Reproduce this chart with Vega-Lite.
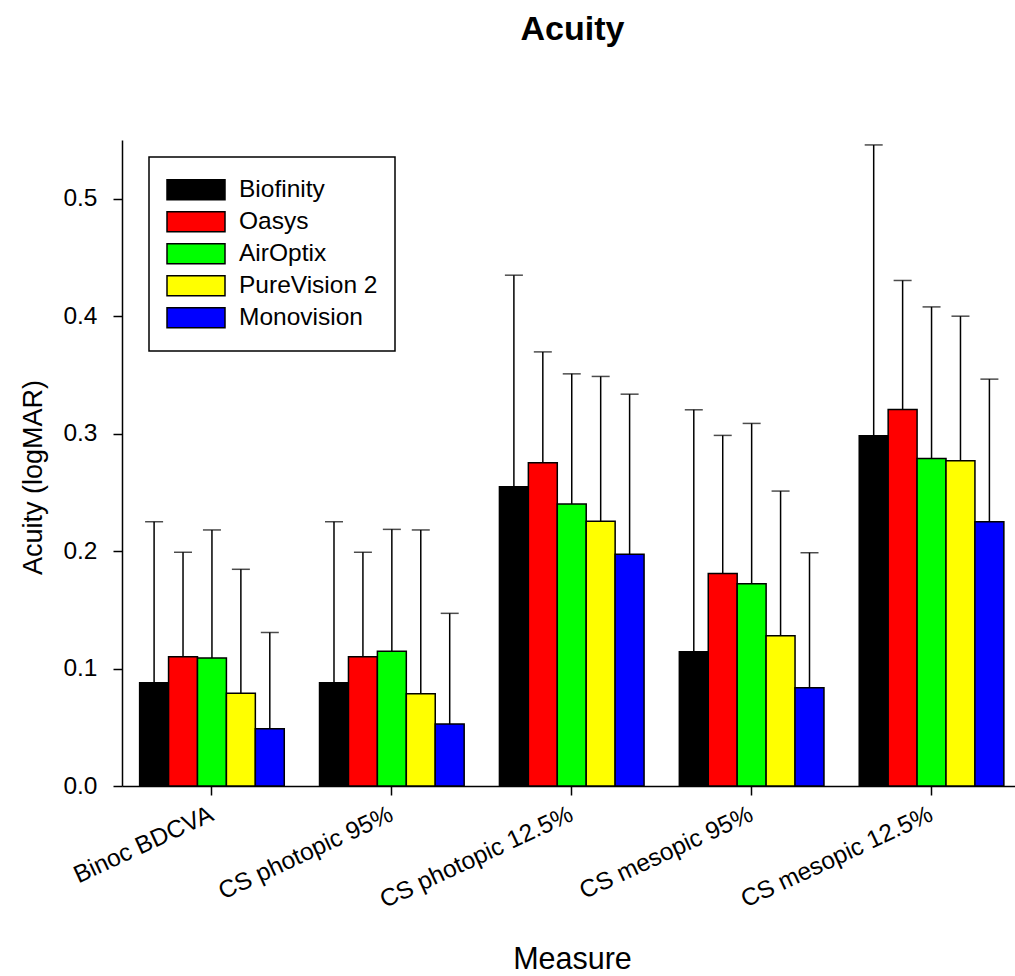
{
  "$schema": "https://vega.github.io/schema/vega-lite/v6.json",
  "autosize": {"type": "none"},
  "padding": {"left": 122, "top": 140, "right": 0, "bottom": 190},
  "width": 893,
  "height": 646,
  "title": {"text": "Acuity", "fontSize": 34, "fontWeight": "bold", "font": "Liberation Sans", "anchor": "middle", "frame": "group", "offset": 66, "baseline": "alphabetic", "dx": 4, "color": "black"},
  "data": {"values": [
    {"measure": "Binoc BDCVA", "lens": "Biofinity", "value": 0.088, "upper": 0.225},
    {"measure": "Binoc BDCVA", "lens": "Oasys", "value": 0.110, "upper": 0.199},
    {"measure": "Binoc BDCVA", "lens": "AirOptix", "value": 0.109, "upper": 0.218},
    {"measure": "Binoc BDCVA", "lens": "PureVision 2", "value": 0.079, "upper": 0.1845},
    {"measure": "Binoc BDCVA", "lens": "Monovision", "value": 0.0487, "upper": 0.1307},
    {"measure": "CS photopic 95%", "lens": "Biofinity", "value": 0.088, "upper": 0.225},
    {"measure": "CS photopic 95%", "lens": "Oasys", "value": 0.110, "upper": 0.199},
    {"measure": "CS photopic 95%", "lens": "AirOptix", "value": 0.1148, "upper": 0.2185},
    {"measure": "CS photopic 95%", "lens": "PureVision 2", "value": 0.0785, "upper": 0.218},
    {"measure": "CS photopic 95%", "lens": "Monovision", "value": 0.0527, "upper": 0.147},
    {"measure": "CS photopic 12.5%", "lens": "Biofinity", "value": 0.2547, "upper": 0.4349},
    {"measure": "CS photopic 12.5%", "lens": "Oasys", "value": 0.2752, "upper": 0.3696},
    {"measure": "CS photopic 12.5%", "lens": "AirOptix", "value": 0.240, "upper": 0.3509},
    {"measure": "CS photopic 12.5%", "lens": "PureVision 2", "value": 0.2255, "upper": 0.3487},
    {"measure": "CS photopic 12.5%", "lens": "Monovision", "value": 0.1974, "upper": 0.3336},
    {"measure": "CS mesopic 95%", "lens": "Biofinity", "value": 0.1143, "upper": 0.3203},
    {"measure": "CS mesopic 95%", "lens": "Oasys", "value": 0.181, "upper": 0.2985},
    {"measure": "CS mesopic 95%", "lens": "AirOptix", "value": 0.1722, "upper": 0.3087},
    {"measure": "CS mesopic 95%", "lens": "PureVision 2", "value": 0.1279, "upper": 0.2511},
    {"measure": "CS mesopic 95%", "lens": "Monovision", "value": 0.0837, "upper": 0.1986},
    {"measure": "CS mesopic 12.5%", "lens": "Biofinity", "value": 0.2981, "upper": 0.5458},
    {"measure": "CS mesopic 12.5%", "lens": "Oasys", "value": 0.3206, "upper": 0.4304},
    {"measure": "CS mesopic 12.5%", "lens": "AirOptix", "value": 0.2789, "upper": 0.4079},
    {"measure": "CS mesopic 12.5%", "lens": "PureVision 2", "value": 0.2769, "upper": 0.400},
    {"measure": "CS mesopic 12.5%", "lens": "Monovision", "value": 0.2249, "upper": 0.3464}
  ]},
  "encoding": {
    "x": {
      "field": "measure", "type": "nominal", "sort": null,
      "scale": {"range": [0, 899.5], "paddingInner": 0.196, "paddingOuter": 0.098},
      "axis": {
        "title": "Measure", "titleFontSize": 30.5, "titleFontWeight": "normal", "titleColor": "black",
        "titleX": 450, "titleY": 158, "titleBaseline": "top", "titleAnchor": "middle",
        "labelAngle": -25, "labelAlign": "right", "labelBaseline": "top", "labelFontSize": 24.5, "labelColor": "black",
        "labelPadding": 7, "labelOffset": -5, "labelLimit": 0, "labelOverlap": false, "tickSize": 9, "tickWidth": 1.5, "tickColor": "black",
        "domainColor": "black", "domainWidth": 1.5, "grid": false
      }
    },
    "xOffset": {
      "field": "lens", "type": "nominal",
      "sort": ["Biofinity", "Oasys", "AirOptix", "PureVision 2", "Monovision"],
      "scale": {"paddingInner": 0, "paddingOuter": 0}
    }
  },
  "layer": [
    {
      "mark": {"type": "bar", "stroke": "black", "strokeWidth": 1.5},
      "encoding": {
        "y": {
          "field": "value", "type": "quantitative",
          "scale": {"domain": [0, 0.55], "nice": false, "zero": true},
          "axis": {
            "title": "Acuity (logMAR)", "titleFontSize": 27, "titleFontWeight": "normal", "titleColor": "black",
            "titleX": -81, "titleY": 337, "titleBaseline": "alphabetic", "titleAngle": 270, "titleAnchor": "middle",
            "values": [0, 0.1, 0.2, 0.3, 0.4, 0.5], "format": ".1f",
            "labelFontSize": 24.5, "labelColor": "black", "labelPadding": 16,
            "tickSize": 9, "tickWidth": 1.5, "tickColor": "black",
            "domainColor": "black", "domainWidth": 1.5, "grid": false
          }
        },
        "fill": {
          "field": "lens", "type": "nominal",
          "sort": ["Biofinity", "Oasys", "AirOptix", "PureVision 2", "Monovision"],
          "scale": {"domain": ["Biofinity", "Oasys", "AirOptix", "PureVision 2", "Monovision"], "range": ["#000000", "#ff0000", "#00ff00", "#ffff00", "#0000ff"]},
          "legend": {
            "title": null, "orient": "none", "legendX": 27, "legendY": 17,
            "strokeColor": "black", "padding": 17,
            "symbolType": "M-1,-0.345H1V0.345H-1Z", "symbolSize": 3364,
            "symbolStrokeColor": "black", "symbolStrokeWidth": 1.5, "symbolOpacity": 1,
            "labelFontSize": 24.5, "labelColor": "black", "labelOffset": 13,
            "clipHeight": 31.5, "rowPadding": 0, "direction": "vertical"
          }
        }
      }
    },
    {
      "mark": {"type": "rule", "color": "black", "strokeWidth": 1.5},
      "encoding": {
        "y": {"field": "value", "type": "quantitative"},
        "y2": {"field": "upper"}
      }
    },
    {
      "mark": {"type": "tick", "color": "black", "thickness": 1.5, "size": 18, "orient": "horizontal"},
      "encoding": {
        "y": {"field": "upper", "type": "quantitative"}
      }
    }
  ],
  "config": {
    "font": "Liberation Sans",
    "view": {"stroke": null},
    "axis": {"labelFont": "Liberation Sans", "titleFont": "Liberation Sans"},
    "legend": {"labelFont": "Liberation Sans", "strokeWidth": 1.5}
  }
}
